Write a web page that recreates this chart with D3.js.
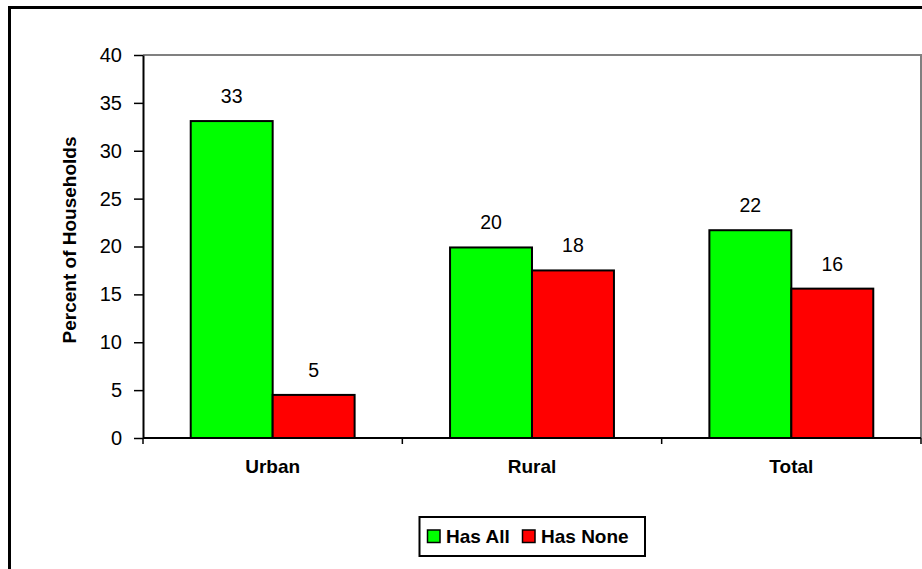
<!DOCTYPE html>
<html>
<head>
<meta charset="utf-8">
<script src="https://cdn.jsdelivr.net/npm/d3@7"></script>
<style>
  html, body { margin: 0; padding: 0; background: #fff; }
  svg { display: block; font-family: "Liberation Sans", Arial, sans-serif; }
</style>
</head>
<body>
<svg id="chart" width="922" height="569"></svg>
<script>
// Household categories and the two series shown per category
const categories = ["Urban", "Rural", "Total"];
const seriesNames = ["Has All", "Has None"];
const hasAll = [33.1, 19.9, 21.7];
const hasNone = [4.5, 17.5, 15.6];
const yTicks = [0, 5, 10, 15, 20, 25, 30, 35, 40];
const seriesColors = ["#00FF00", "#FF0000"];

const svg = d3.select("#chart");

// Outer chart frame (runs past the right and bottom edges)
svg.append("rect")
  .attr("x", 9.5).attr("y", 7.5)
  .attr("width", 1000).attr("height", 1000)
  .attr("fill", "none").attr("stroke", "#000").attr("stroke-width", 3);

const plot = { left: 143, right: 921, top: 55, bottom: 438 };

const x0 = d3.scaleBand().domain(categories).range([plot.left, plot.right]).padding(0);
const bw = x0.bandwidth();
const groupW = bw * 0.632;
const x1 = d3.scaleBand().domain(seriesNames)
  .range([(bw - groupW) / 2, (bw + groupW) / 2]).padding(0);
const y = d3.scaleLinear().domain([0, 40]).range([plot.bottom, plot.top]);

// Plot-area border (top and right in grey)
svg.append("path")
  .attr("d", `M${plot.left},${plot.top}H${plot.right}V${plot.bottom}`)
  .attr("fill", "none").attr("stroke", "#808080").attr("stroke-width", 2);

// Bars
const rows = categories.map((c, i) => ({ cat: c, vals: [hasAll[i], hasNone[i]] }));
const groups = svg.append("g").selectAll("g").data(rows).join("g")
  .attr("transform", d => `translate(${x0(d.cat)},0)`);

groups.selectAll("rect")
  .data(d => d.vals.map((v, j) => ({ name: seriesNames[j], v, j })))
  .join("rect")
  .attr("x", d => x1(d.name))
  .attr("y", d => y(d.v))
  .attr("width", x1.bandwidth())
  .attr("height", d => y(0) - y(d.v))
  .attr("fill", d => seriesColors[d.j])
  .attr("stroke", "#000").attr("stroke-width", 2);

// Value labels above each bar
const fmt = d3.format(".0f");
groups.selectAll("text")
  .data(d => d.vals.map((v, j) => ({ name: seriesNames[j], v })))
  .join("text")
  .attr("x", d => x1(d.name) + x1.bandwidth() / 2)
  .attr("y", d => y(d.v) - 18)
  .attr("text-anchor", "middle")
  .attr("font-size", 19.5)
  .attr("fill", "#000")
  .text(d => fmt(d.v));

// Y axis
const yAxis = svg.append("g")
  .attr("transform", `translate(${plot.left},0)`)
  .call(d3.axisLeft(y).tickValues(yTicks).tickSize(9).tickPadding(12).tickSizeOuter(0));
yAxis.select(".domain").attr("stroke", "#000").attr("stroke-width", 2);
yAxis.selectAll(".tick line").attr("stroke", "#000").attr("stroke-width", 1.5);
yAxis.selectAll(".tick text")
  .attr("font-size", 20).attr("font-family", "Liberation Sans, Arial, sans-serif")
  .attr("fill", "#000");

// X axis with tick marks at the category boundaries
const xAxisG = svg.append("g").attr("transform", `translate(0,${plot.bottom})`);
xAxisG.append("line")
  .attr("x1", plot.left).attr("x2", plot.right)
  .attr("stroke", "#000").attr("stroke-width", 2);
const boundaries = categories.map(c => x0(c)).concat([plot.right]);
xAxisG.selectAll("line.bt").data(boundaries).join("line")
  .attr("class", "bt")
  .attr("x1", d => d).attr("x2", d => d)
  .attr("y1", 0).attr("y2", 6)
  .attr("stroke", "#000").attr("stroke-width", 1.5);
xAxisG.selectAll("text").data(categories).join("text")
  .attr("x", d => x0(d) + bw / 2)
  .attr("y", 35)
  .attr("text-anchor", "middle")
  .attr("font-size", 19).attr("font-weight", "bold")
  .attr("fill", "#000")
  .text(d => d);

// Y axis title
svg.append("text")
  .attr("transform", "translate(76,240) rotate(-90)")
  .attr("text-anchor", "middle")
  .attr("font-size", 19).attr("font-weight", "bold")
  .attr("fill", "#000")
  .text("Percent of Households");

// Legend
const legend = svg.append("g");
legend.append("rect")
  .attr("x", 419.5).attr("y", 517)
  .attr("width", 225.5).attr("height", 39)
  .attr("fill", "#fff").attr("stroke", "#000").attr("stroke-width", 2);
const legendX = [427, 522];
const items = legend.selectAll("g").data(seriesNames).join("g")
  .attr("transform", (d, i) => `translate(${legendX[i]},0)`);
items.append("rect")
  .attr("x", 0.5).attr("y", 530)
  .attr("width", 12.5).attr("height", 12.5)
  .attr("fill", (d, i) => seriesColors[i])
  .attr("stroke", "#000").attr("stroke-width", 1.5);
items.append("text")
  .attr("x", 19).attr("y", 542.5)
  .attr("font-size", 19).attr("font-weight", "bold")
  .attr("fill", "#000")
  .text(d => d);
</script>
</body>
</html>
